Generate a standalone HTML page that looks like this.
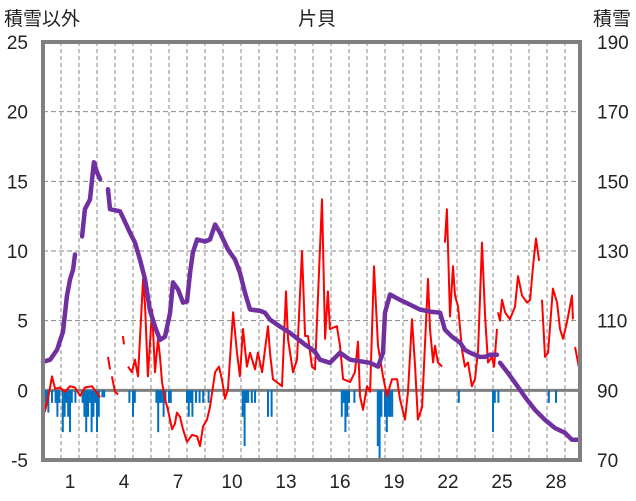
<!DOCTYPE html>
<html><head><meta charset="utf-8">
<style>
html,body{margin:0;padding:0;background:#fff;}
svg{display:block;font-family:"Liberation Sans","Noto Sans CJK JP",sans-serif;}
</style></head>
<body>
<svg id="chart" width="636" height="501" viewBox="0 0 636 501" xmlns="http://www.w3.org/2000/svg">
<rect width="636" height="501" fill="#fff"/>
<g id="grid"></g>
<g id="bars"></g>
<g id="lines"></g>
<rect x="43" y="42" width="537" height="418" fill="none" stroke="#808080" stroke-width="4"/>
<text x="317" y="25" font-size="19" text-anchor="middle" fill="#222">片貝</text>
<text x="4" y="25" font-size="19" fill="#222">積雪以外</text>
<text x="593" y="25" font-size="19" fill="#222">積雪</text>
<g id="ticks"></g>
</svg>
<script>
const leftTicks=[25,20,15,10,5,0,-5];
const rightTicks=[190,170,150,130,110,90,70];
const dayLabels=[1,4,7,10,13,16,19,22,25,28];
const snowT=[0,0.4,0.78,1.11,1.33,1.5,1.67,1.78,null,2.17,2.33,2.61,2.83,3,3.17,null,3.61,3.72,4.28,4.5,4.83,5.11,5.39,5.67,5.94,6.22,6.5,6.78,7.06,7.22,7.5,7.78,8,8.17,8.33,8.56,9,9.28,9.56,9.83,10.28,10.67,10.94,11.22,11.5,12.06,12.33,12.61,13.17,13.72,14,14.56,14.83,15.11,15.39,15.94,16.5,17.06,18.17,18.61,18.89,19,19.28,19.83,20.39,20.94,21.5,22.06,22.33,22.72,23.17,23.44,23.72,24.28,24.56,24.83,25.22,null,25.39,25.83,26.22,26.78,27.33,27.89,28.44,29,29.39,29.83];
const snowV=[98.2,98.8,101.6,106.8,117,121.8,124.7,129,null,134.2,142,144.8,155.5,152.6,150.6,null,147.7,142,141.4,139,135.3,132.4,127.5,121.8,113,108.3,104.5,105.4,112.3,121,119,115.2,115.5,123.8,129.6,133.3,132.7,133.3,137.6,135.3,130.4,127.5,123.8,118,113.2,112.8,112.3,110.3,108.3,106.5,105.4,103.1,102.2,101.1,98.8,97.9,100.8,98.8,97.9,96.8,100.8,112.3,117.5,116,114.6,113.2,112.6,112.3,107.4,105.4,103.7,101.6,100.8,99.6,99.6,100.2,100.2,null,97.9,95,92.2,88.1,84.4,81.5,79.2,77.8,75.8,75.8];
const tempT=[0,0.11,0.28,0.5,0.67,0.94,1.22,1.5,1.78,2.06,2.33,2.72,3.17,null,3.61,3.72,null,3.83,4,4.17,null,4.44,4.5,null,4.72,4.94,5.11,5.28,5.56,5.67,5.83,6.06,6.22,6.39,6.5,6.61,6.78,6.94,7.17,7.33,7.44,7.61,7.78,8,8.28,8.56,8.72,8.89,9.11,9.28,9.56,9.78,9.94,10.11,10.28,10.56,10.78,10.94,11.11,11.33,11.5,11.78,11.94,12.17,12.5,12.61,12.78,13.28,13.5,13.61,13.89,14.11,14.39,14.56,14.72,14.94,15.11,15.5,15.67,15.83,15.94,16.33,16.5,16.67,17.06,17.33,17.5,17.61,17.78,18,18.17,18.39,18.61,18.89,19.11,19.39,19.67,19.83,20.11,20.28,20.5,20.67,20.83,21.06,21.39,21.5,21.67,21.78,21.94,22.17,null,22.33,22.44,22.61,22.78,22.89,23.06,23.28,23.44,23.61,23.83,24,24.17,24.39,24.56,24.72,24.94,25.06,25.22,null,25.28,25.39,25.5,25.67,25.94,26.22,26.39,26.61,26.89,27.06,27.22,27.39,27.56,null,27.72,27.89,28.06,28.33,28.56,28.72,28.89,29.11,29.39,29.44,null,29.56,29.72,29.83];
const tempV=[-0.1,-1.5,-0.6,1.0,0.1,0.2,-0.1,0.3,0.2,-0.4,0.2,0.3,-0.5,null,2.4,1.5,null,1.0,-0.1,-0.3,null,3.9,3.3,null,1.7,1.3,2.2,1.0,8.0,6.0,1.0,5.8,1.3,3.7,2.4,0.6,-0.6,-1.4,-2.8,-2.4,-1.6,-1.9,-2.8,-3.7,-3.2,-3.3,-4.0,-2.6,-2.1,-1.2,1.3,1.7,0.8,-0.6,0.1,5.6,2.7,1.0,4.4,1.7,2.7,1.5,2.7,1.3,4.6,2.7,0.8,0.3,7.1,3.7,1.3,2.2,10.0,3.9,3.9,1.7,1.5,13.7,3.7,7.1,4.4,4.6,3.2,0.8,0.6,1.3,3.5,-0.4,-1.4,0.3,-0.1,8.9,3.2,1.0,-0.4,0.8,0.8,-0.6,-2.1,-0.1,5.1,1.7,-2.1,-1.2,8.0,4.4,2.0,3.2,2.0,1.7,null,10.6,13.0,5.3,8.9,6.8,6.0,2.9,1.7,2.0,0.3,0.8,2.9,10.6,5.3,2.0,2.4,1.7,4.4,null,5.6,5.0,6.5,5.6,5.1,6.0,8.2,6.8,6.3,6.5,8.9,10.9,9.3,null,6.5,2.4,2.7,7.3,6.3,4.4,3.7,4.9,6.8,5.1,null,3.1,2.0,1.3];
const barT=[0.1,0.2,0.3,0.5,0.7,0.8,0.9,1.1,1.2,1.3,1.4,1.5,1.6,1.8,2.2,2.3,2.4,2.5,2.6,2.7,2.8,2.9,3.0,3.1,3.3,3.4,4.8,5.0,5.1,6.3,6.4,6.5,6.6,6.7,6.8,7.0,7.1,8.0,8.1,8.2,8.3,8.5,8.7,8.9,9.2,11.1,11.2,11.3,11.4,11.6,11.78,12.5,12.7,16.6,16.7,16.8,16.9,17.0,17.3,18.6,18.7,18.8,19.0,19.1,19.2,19.3,19.4,23.1,25.0,25.1,25.3,28.1,28.5];
const barV=[-1.4,-0.9,-1.6,-0.9,-0.9,-1.9,-0.9,-3,-1.9,-0.9,-1.9,-3,-0.9,-0.9,-0.9,-1.9,-3,-1.9,-0.9,-3,-1.9,-0.9,-3,-1.9,-0.5,-0.5,-0.9,-1.9,-0.9,-0.9,-3,-0.9,-0.9,-1.9,-0.9,-0.9,-0.9,-0.9,-1.9,-0.9,-1.9,-0.9,-0.9,-0.9,-0.9,-1.9,-4,-0.9,-0.9,-0.9,-0.9,-1.9,-1.9,-1.9,-0.9,-3,-1.9,-0.9,-0.9,-4,-5,-1.9,-1.9,-3,-1.9,-1.9,-1.9,-0.9,-3,-0.9,-0.9,-0.9,-0.9];

const NS='http://www.w3.org/2000/svg';
const X0=43,X1=580,Y0=42,Y1=460;
function xs(t){return X0+t*18;}
function yl(v){return Y1-(v+5)*(Y1-Y0)/30;}
function yr(v){return Y1-(v-70)*(Y1-Y0)/120;}
function mk(tag,attrs,parent){const e=document.createElementNS(NS,tag);for(const k in attrs)e.setAttribute(k,attrs[k]);parent.appendChild(e);return e;}
const grid=document.getElementById('grid'),ticks=document.getElementById('ticks'),bars=document.getElementById('bars'),lines=document.getElementById('lines');
for(let d=1;d<30;d++){
  const g=mk('line',{x1:xs(d),x2:xs(d),y1:Y0,y2:Y1,stroke:'#888','stroke-width':1,'stroke-dasharray':'4,3'},grid);
  
  
}
leftTicks.forEach((v,i)=>{
  const y=yl(v);
  if(v!==25&&v!==-5){
    const g=mk('line',{x1:X0,x2:X1,y1:y,y2:y,stroke:v===0?'#808080':'#888','stroke-width':v===0?3:1,'stroke-dasharray':v===0?'none':'5,3'},grid);
    
    
  }
  const t=mk('text',{x:28,y:y+7,'font-size':19,'text-anchor':'end',fill:'#222'},ticks);t.textContent=v;
  
  
  const r=mk('text',{x:597,y:yr(rightTicks[i])+7,'font-size':19,fill:'#222'},ticks);r.textContent=rightTicks[i];
  
  
});
dayLabels.forEach(d=>{
  const t=mk('text',{x:xs(d+0.5),y:488,'font-size':19,'text-anchor':'middle',fill:'#222'},ticks);t.textContent=d;
  
  
});
barT.forEach((t,i)=>{
  const y0=yl(0),y=yl(barV[i]);
  const b=mk('rect',{x:xs(t)-1,y:Math.min(y0,y),width:2,height:Math.abs(y-y0),fill:'#0070c0'},bars);
  
  
});
function path(T,V,sc){let d='',pen=false;for(let i=0;i<T.length;i++){if(T[i]===null){pen=false;continue;}d+=(pen?'L':'M')+xs(T[i]).toFixed(1)+','+sc(V[i]).toFixed(1);pen=true;}return d;}
const tl=mk('path',{d:path(tempT,tempV,yl),fill:'none',stroke:'#ff0000','stroke-width':2,'stroke-linejoin':'round'},lines);


const sl=mk('path',{d:path(snowT,snowV,yr),fill:'none',stroke:'#7030a0','stroke-width':4.5,'stroke-linejoin':'round','stroke-linecap':'round'},lines);


</script>
</body></html>
